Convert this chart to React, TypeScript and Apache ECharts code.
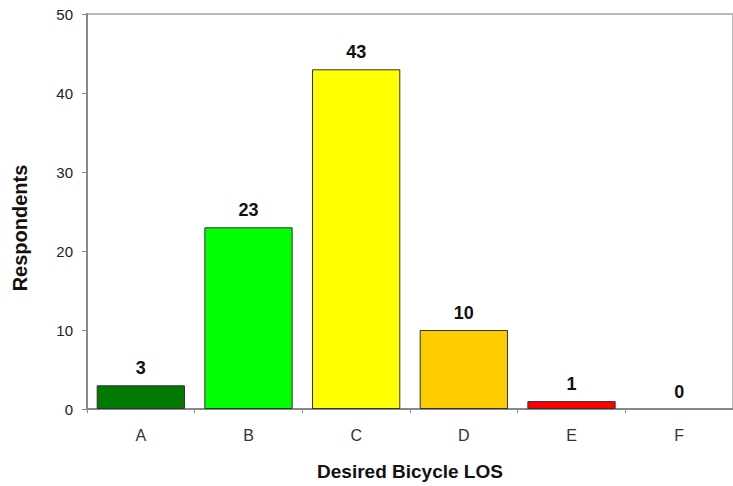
import React, { useEffect, useRef } from "react";
import * as echarts from "echarts";

const categories = ["A", "B", "C", "D", "E", "F"];
const respondents = [3, 23, 43, 10, 1, 0];
const barColors = ["#007a00", "#00ff00", "#ffff00", "#ffcc00", "#ff0000", "#cccccc"];
const yTicks = { min: 0, max: 50, interval: 10 };
const xTitle = "Desired Bicycle LOS";
const yTitle = "Respondents";

export default function App() {
  const ref = useRef<HTMLDivElement>(null);
  useEffect(() => {
    if (!ref.current) return;
    const chart = echarts.init(ref.current, undefined, { renderer: "svg" });
    const font = "'Liberation Sans', Arial, sans-serif";
    chart.setOption({
      animation: false,
      backgroundColor: "#ffffff",
      textStyle: { fontFamily: font },
      grid: {
        left: 87,
        top: 14,
        bottom: 72,
        right: -3,
        show: true,
        borderColor: "#b8b8b8",
        borderWidth: 2,
      },
      graphic: [
        {
          type: "text",
          x: 20,
          y: 228,
          rotation: Math.PI / 2,
          style: {
            text: yTitle,
            fontFamily: font,
            fontWeight: "bold",
            fontSize: 20,
            fill: "#111",
            textAlign: "center",
            textVerticalAlign: "middle",
          },
        },
      ],
      xAxis: {
        type: "category",
        data: categories,
        name: xTitle,
        nameLocation: "middle",
        nameGap: 53,
        nameTextStyle: { fontFamily: font, fontWeight: "bold", fontSize: 19, color: "#111" },
        axisLine: { lineStyle: { color: "#888888", width: 2 } },
        axisTick: { show: true, alignWithLabel: false, length: 4, lineStyle: { color: "#888888", width: 1 } },
        axisLabel: { fontFamily: font, fontSize: 16, color: "#333", margin: 18 },
      },
      yAxis: {
        type: "value",
        min: yTicks.min,
        max: yTicks.max,
        interval: yTicks.interval,
        axisLine: { show: true, lineStyle: { color: "#888888", width: 2 } },
        axisTick: { show: true, length: 5, lineStyle: { color: "#888888", width: 1 } },
        axisLabel: { fontFamily: font, fontSize: 15, color: "#222", margin: 14 },
        splitLine: { show: false },
      },
      series: [
        {
          type: "bar",
          data: respondents.map((v, i) => ({
            value: v,
            itemStyle: { color: barColors[i], borderWidth: v === 0 ? 0 : 1 },
          })),
          barCategoryGap: "18%",
          itemStyle: { borderColor: "#333333", borderWidth: 1 },
          label: {
            show: true,
            position: "top",
            distance: 8,
            fontFamily: font,
            fontWeight: "bold",
            fontSize: 18,
            color: "#111",
          },
        },
      ],
    });
    return () => chart.dispose();
  }, []);
  return (
    <div
      ref={ref}
      style={{ position: "absolute", left: 0, top: 0, width: 733, height: 486 }}
    />
  );
}
